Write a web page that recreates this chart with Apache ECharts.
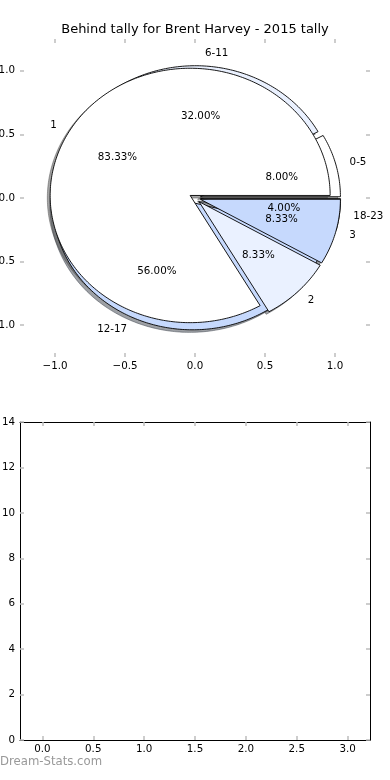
<!DOCTYPE html>
<html><head><meta charset="utf-8">
<script src="https://cdn.jsdelivr.net/npm/echarts@6/dist/echarts.min.js"></script>
<style>html,body{margin:0;padding:0;background:#fff}#c{width:390px;height:780px}</style>
</head><body><div id="c"></div>
<script>
// ---- data ----
const titleText = 'Behind tally for Brent Harvey - 2015 tally';
const outerNames = ['0-5', '6-11', '12-17', '18-23'];
const outerCounts = [2, 8, 14, 1];
const innerNames = ['1', '2', '3'];
const innerCounts = [10, 1, 1];
const sliceColors = ['#ffffff', '#eaf1ff', '#c6d9fd'];
const pieTicks = [-1.0, -0.5, 0.0, 0.5, 1.0];
const lowerXTicks = [0.0, 0.5, 1.0, 1.5, 2.0, 2.5, 3.0];
const lowerYTicks = [0, 2, 4, 6, 8, 10, 12, 14];
const watermark = 'Dream-Stats.com';

// ---- style constants ----
const EXPLODE = 0.04, PCTDIST = 0.6, LABELDIST = 1.1, SHADOW_OFF = -0.02;
const FONT = 'DejaVu Sans';
const FS = 10.3;
const TICK_COLOR = '#bdbdbd';

function buildPie(names, counts) {
  const total = counts.reduce((a, b) => a + b, 0);
  let t1 = 0;
  return counts.map((c, i) => {
    const frac = c / total;
    const t2 = t1 + frac * 360;
    const mid = (t1 + t2) / 2 * Math.PI / 180;
    const w = {
      name: names[i], pct: (frac * 100).toFixed(2) + '%',
      t1: t1, t2: t2, mid: mid,
      cx: EXPLODE * Math.cos(mid), cy: EXPLODE * Math.sin(mid),
      color: sliceColors[i % sliceColors.length]
    };
    t1 = t2;
    return w;
  });
}
const outerPie = buildPie(outerNames, outerCounts);
const innerPie = buildPie(innerNames, innerCounts);
const allWedges = outerPie.concat(innerPie);

function shadowColor(hex) {
  const r = parseInt(hex.slice(1, 3), 16), g = parseInt(hex.slice(3, 5), 16), b = parseInt(hex.slice(5, 7), 16);
  return 'rgba(' + Math.round(r * 0.3) + ',' + Math.round(g * 0.3) + ',' + Math.round(b * 0.3) + ',0.5)';
}

function wedgeRenderer(list, off, isShadow) {
  return function (params, api) {
    const w = list[params.dataIndex];
    const ox = w.cx + off, oy = w.cy + off;
    const pts = [api.coord([ox, oy])];
    const n = Math.max(4, Math.ceil(w.t2 - w.t1));
    for (let k = 0; k <= n; k++) {
      const t = (w.t1 + (w.t2 - w.t1) * k / n) * Math.PI / 180;
      pts.push(api.coord([ox + Math.cos(t), oy + Math.sin(t)]));
    }
    const sc = shadowColor(w.color);
    return {
      type: 'polygon',
      shape: { points: pts },
      style: isShadow ? { fill: sc, stroke: sc, lineWidth: 1 }
                      : { fill: w.color, stroke: '#000', lineWidth: 0.9 }
    };
  };
}

// labels
const labelItems = [];
allWedges.forEach(w => {
  const c = Math.cos(w.mid), s = Math.sin(w.mid);
  labelItems.push({ x: w.cx + PCTDIST * c, y: w.cy + PCTDIST * s, text: w.pct, align: 'center' });
  const lx = w.cx + LABELDIST * c;
  labelItems.push({ x: lx, y: w.cy + LABELDIST * s, text: w.name, align: lx > 0 ? 'left' : 'right' });
});

function fmt1(v) { return (v < 0 ? '\u2212' : '') + Math.abs(v).toFixed(1); }

const tickStyle = { color: TICK_COLOR, width: 1.5 };
function axis(gridIndex, position, min, max, ticks, showLabel, showLine, formatter) {
  return {
    type: 'value', gridIndex: gridIndex, position: position, min: min, max: max,
    axisLine: { show: showLine, onZero: false, lineStyle: { color: '#000', width: 1 } },
    splitLine: { show: false },
    axisTick: { show: true, inside: true, length: 4, customValues: ticks, lineStyle: tickStyle },
    axisLabel: { show: showLabel, customValues: ticks, formatter: formatter, margin: position === 'bottom' ? 4 : 5,
                 color: '#000', fontSize: FS, fontFamily: FONT }
  };
}

const chart = echarts.init(document.getElementById('c'), null, { renderer: 'canvas' });
chart.setOption({
  animation: false,
  backgroundColor: '#fff',
  textStyle: { fontFamily: FONT },
  title: {
    text: titleText, left: 'center', top: 23, padding: 0,
    textStyle: { fontSize: 13, fontWeight: 'normal', color: '#000', fontFamily: FONT }
  },
  grid: [
    { left: 20, top: 39, width: 350, height: 318, containLabel: false, outerBoundsMode: 'none' },
    { left: 20, top: 422, width: 350, height: 318, containLabel: false, outerBoundsMode: 'none' }
  ],
  xAxis: [
    axis(0, 'bottom', -1.25, 1.25, pieTicks, true, false, fmt1),
    axis(0, 'top', -1.25, 1.25, pieTicks, false, false, fmt1),
    axis(1, 'bottom', -0.22, 3.22, lowerXTicks, true, true, fmt1),
    axis(1, 'top', -0.22, 3.22, lowerXTicks, false, true, fmt1)
  ],
  yAxis: [
    axis(0, 'left', -1.25, 1.25, pieTicks, true, false, fmt1),
    axis(0, 'right', -1.25, 1.25, pieTicks, false, false, fmt1),
    axis(1, 'left', 0, 14, lowerYTicks, true, true, v => String(v)),
    axis(1, 'right', 0, 14, lowerYTicks, false, true, v => String(v))
  ],
  graphic: [{
    type: 'text', left: 0, top: 756,
    style: { text: watermark, fill: '#999', fontSize: 11.7, fontFamily: FONT }
  }],
  series: [
    {
      type: 'custom', name: 'shadows', xAxisIndex: 0, yAxisIndex: 0, z: 1, silent: true, clip: false,
      data: allWedges.map(w => [w.cx, w.cy]),
      renderItem: wedgeRenderer(allWedges, SHADOW_OFF, true)
    },
    {
      type: 'custom', name: 'outer', xAxisIndex: 0, yAxisIndex: 0, z: 2, silent: true, clip: false,
      data: outerPie.map(w => [w.cx, w.cy]),
      renderItem: wedgeRenderer(outerPie, 0, false)
    },
    {
      type: 'custom', name: 'inner', xAxisIndex: 0, yAxisIndex: 0, z: 3, silent: true, clip: false,
      data: innerPie.map(w => [w.cx, w.cy]),
      renderItem: wedgeRenderer(innerPie, 0, false)
    },
    {
      type: 'custom', name: 'labels', xAxisIndex: 0, yAxisIndex: 0, z: 4, silent: true, clip: false,
      data: labelItems.map(l => [l.x, l.y]),
      renderItem: function (params, api) {
        const l = labelItems[params.dataIndex];
        const p = api.coord([l.x, l.y]);
        return {
          type: 'text',
          style: { text: l.text, x: p[0], y: p[1], align: l.align, verticalAlign: 'middle',
                   fill: '#000', fontSize: FS, fontFamily: FONT }
        };
      }
    },
    {
      type: 'line', name: 'lower', xAxisIndex: 2, yAxisIndex: 2, data: [], silent: true
    }
  ]
});
</script>
</body></html>
